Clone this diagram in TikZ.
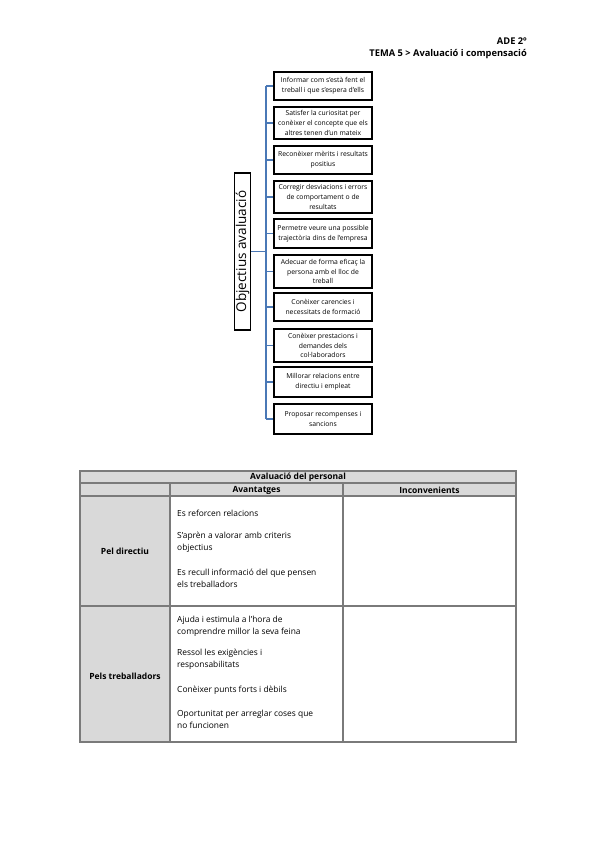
\documentclass[tikz,border=0pt]{standalone}
\usepackage{fontspec}
\setmainfont{Open Sans}
\definecolor{conn}{HTML}{4A78B6}
\definecolor{cellgray}{HTML}{D9D9D9}
\definecolor{rulegray}{HTML}{7A7A7A}
\begin{document}
\begin{tikzpicture}[x=1pt,y=-1pt,
  obox/.style={draw=black,line width=1.7pt,fill=white,minimum width=98pt,inner sep=1pt,
     align=center,font=\fontsize{6.8}{9.8}\selectfont},
  link/.style={draw=conn,line width=1.4pt},
  hdr/.style={font=\fontsize{9.3}{10}\selectfont\bfseries,anchor=east,inner sep=0pt},
  thead/.style={font=\fontsize{8.5}{9}\selectfont\bfseries,inner sep=0pt},
  rowlab/.style={font=\fontsize{8.5}{9}\selectfont\bfseries,inner sep=0pt},
  ctext/.style={font=\fontsize{8.4}{11.8}\selectfont,anchor=west,align=left,inner sep=0pt},
  tline/.style={draw=rulegray,line width=1.4pt}]
\useasboundingbox (0,0) rectangle (599,848);

% header
\node[hdr] (h1) at (527,41) {ADE 2º};
\node[hdr] (h2) at (527,54) {TEMA 5 > Avaluació i compensació};

% left box
\node[draw=black,line width=1.7pt,minimum width=157pt,minimum height=16pt,inner sep=0pt,
  rotate=90,font=\fontsize{13.5}{14}\selectfont] (obj) at (242.5,251.5) {Objectius avaluació};

% right boxes
\node[obox,minimum height=28pt] (b1) at (323,86) {Informar com s'està fent el\\treball i que s'espera d'ells};
\node[obox,minimum height=32pt] (b2) at (323,123) {Satisfer la curiositat per\\conèixer el concepte que els\\altres tenen d'un mateix};
\node[obox,minimum height=28pt] (b3) at (323,160) {Reconèixer mèrits i resultats\\positius};
\node[obox,minimum height=32pt] (b4) at (323,197) {Corregir desviacions i errors\\de comportament o de\\resultats};
\node[obox,minimum height=29pt] (b5) at (323,233.5) {Permetre veure una possible\\trajectòria dins de l'empresa};
\node[obox,minimum height=33pt] (b6) at (323,271.5) {Adecuar de forma eficaç la\\persona amb el lloc de\\treball};
\node[obox,minimum height=28pt] (b7) at (323,307) {Conèixer carencies i\\necessitats de formació};
\node[obox,minimum height=33pt] (b8) at (323,345.5) {Conèixer prestacions i\\demandes dels\\col·laboradors};
\node[obox,minimum height=30pt] (b9) at (323,382) {Millorar relacions entre\\directiu i empleat};
\node[obox,minimum height=30pt] (b10) at (323,419) {Proposar recompenses i\\sancions};

% connectors
\coordinate (tx) at (266,0);
\draw[link] (b1.west -| tx) -- (b10.west -| tx);
\draw[link] (obj.south) -- (obj.south -| tx);
\foreach \i in {1,...,10}{\draw[link] (b\i.west -| tx) -- (b\i.west);}

% table fills
\fill[cellgray] (80,471) rectangle (516,496);
\fill[cellgray] (80,496) rectangle (170,742);
% table lines
\draw[tline] (80,471) rectangle (516,742);
\draw[tline] (80,483) -- (516,483);
\draw[tline] (80,496) -- (516,496);
\draw[tline] (80,606) -- (516,606);
\draw[tline] (170,483) -- (170,742);
\draw[tline] (343,483) -- (343,742);

% table texts
\node[thead] (tt) at (298,477.5) {Avaluació del personal};
\node[thead] (ta) at (256.5,490) {Avantatges};
\node[thead] (ti) at (429.5,490) {Inconvenients};
\node[rowlab] (r1) at (125,551) {Pel directiu};
\node[rowlab] (r2) at (125,676) {Pels treballadors};

\node[ctext] (c1) at (177,513) {Es reforcen relacions};
\node[ctext] (c2) at (177,542) {S'aprèn a valorar amb criteris\\objectius};
\node[ctext] (c3) at (177,578) {Es recull informació del que pensen\\els treballadors};

\node[ctext] (d1) at (177,626) {Ajuda i estimula a l'hora de\\comprendre millor la seva feina};
\node[ctext] (d2) at (177,659.5) {Ressol les exigències i\\responsabilitats};
\node[ctext] (d3) at (177,690) {Conèixer punts forts i dèbils};
\node[ctext] (d4) at (177,719) {Oportunitat per arreglar coses que\\no funcionen};
\end{tikzpicture}
\end{document}
